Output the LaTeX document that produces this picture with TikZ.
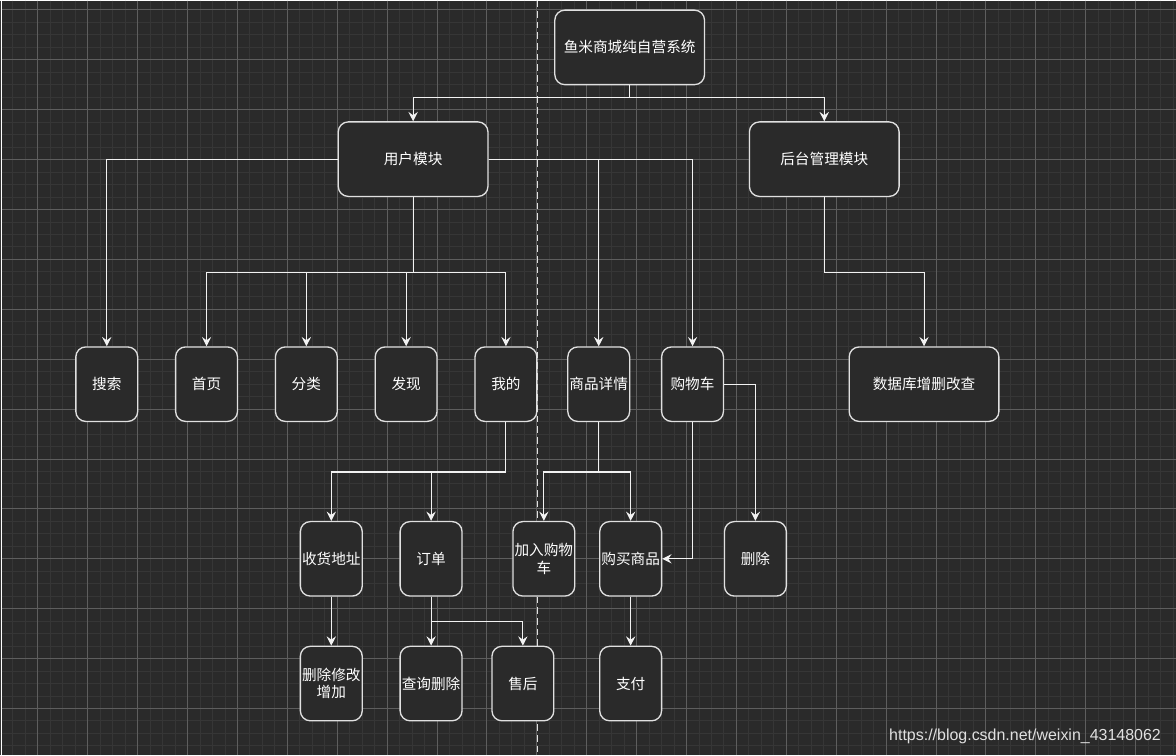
\documentclass[tikz,border=0pt]{standalone}
\usepackage{fontspec}
\setmainfont{Noto Sans CJK SC}
\newfontfamily\urlfont{Liberation Sans}
\usetikzlibrary{arrows.meta}

\definecolor{bgc}{HTML}{2A2A2A}
\definecolor{minorc}{HTML}{363636}
\definecolor{majorc}{HTML}{5E5E5E}
\definecolor{boxc}{HTML}{E0E0E0}
\definecolor{linec}{HTML}{F2F2F2}

\tikzset{
  box/.style={draw=boxc, line width=1pt, fill=bgc, rounded corners=7.5pt,
    text=white, minimum width=46.5pt, minimum height=56pt, inner sep=1pt,
    align=center, font=\fontsize{11}{13}\selectfont},
  widebox/.style={box, minimum width=112.5pt},
  link/.style={draw=linec, line width=0.8pt}
}

\begin{document}
\begin{tikzpicture}[x=0.75pt, y=-0.75pt, >={Stealth[length=7pt,width=7pt,inset=2.5pt]}]

\fill[bgc] (0,0) rectangle (1176,756);
\foreach \i in {0,...,94} \draw[minorc, line width=0.75pt] (-1.5+12.5*\i,0) -- (-1.5+12.5*\i,756);
\foreach \j in {0,...,59} \draw[minorc, line width=0.75pt] (0,9.5+12.5*\j) -- (1176,9.5+12.5*\j);
\foreach \i in {0,...,22} \draw[majorc, line width=0.75pt] (36+50*\i,0) -- (36+50*\i,756);
\foreach \j in {0,...,14} \draw[majorc, line width=0.75pt] (0,9.5+50*\j) -- (1176,9.5+50*\j);

\draw[boxc, line width=0.75pt, dash pattern=on 5pt off 3pt] (537,0) -- (537,756);

% modules
\node[widebox] (root) at (629,47) {鱼米商城纯自营系统};
\node[widebox] (user) at (412,159) {用户模块};
\node[widebox] (admin) at (824,159) {后台管理模块};

\node[box] (search) at (105,384.5) {搜索};
\node[box] (home) at (205,384.5) {首页};
\node[box] (category) at (305,384.5) {分类};
\node[box] (discover) at (405,384.5) {发现};
\node[box] (mine) at (505,384.5) {我的};
\node[box] (detail) at (598,384.5) {商品详情};
\node[box] (cart) at (692,384.5) {购物车};
\node[widebox] (db) at (924,384.5) {数据库增删改查};

\node[box] (address) at (330,559.5) {收货地址};
\node[box] (order) at (430,559.5) {订单};
\node[box] (addcart) at (543,559.5) {加入购物\\车};
\node[box] (buy) at (630,559.5) {购买商品};
\node[box] (delete) at (755,559.5) {删除};

\node[box] (edit) at (330,684.5) {删除修改\\增加};
\node[box] (query) at (430,684.5) {查询删除};
\node[box] (aftersale) at (522,684.5) {售后};
\node[box] (pay) at (630,684.5) {支付};

\draw[link,->] (root.south) -- ++(0,12) -| (user.north);
\draw[link,->] (root.south) -- ++(0,12) -| (admin.north);

\draw[link,->] (user.west) -| (search.north);
\draw[link,->] (user.south) -- ++(0,76) -| (home.north);
\draw[link,->] (user.south) -- ++(0,76) -| (category.north);
\draw[link,->] (user.south) -- ++(0,76) -| (discover.north);
\draw[link,->] (user.south) -- ++(0,76) -| (mine.north);
\draw[link,->] (user.east) -| (detail.north);
\draw[link,->] (user.east) -| (cart.north);
\draw[link,->] (admin.south) -- ++(0,76) -| (db.north);

\draw[link,->] (mine.south) -- ++(0,50) -| (address.north);
\draw[link,->] (mine.south) -- ++(0,50) -| (order.north);
\draw[link,->] (detail.south) -- ++(0,50) -| (addcart.north);
\draw[link,->] (detail.south) -- ++(0,50) -| (buy.north);
\draw[link,->] (cart.east) -| (delete.north);
\draw[link,->] (cart.south) |- (buy.east);

\draw[link,->] (address) -- (edit);
\draw[link,->] (order) -- (query);
\draw[link,->] (order.south) -- ++(0,25) -| (aftersale.north);
\draw[link,->] (buy) -- (pay);

\node[anchor=east, text=boxc, font=\urlfont\fontsize{12}{14}\selectfont] (url) at (1166,737) {https://blog.csdn.net/weixin\_43148062};

\end{tikzpicture}
\end{document}
